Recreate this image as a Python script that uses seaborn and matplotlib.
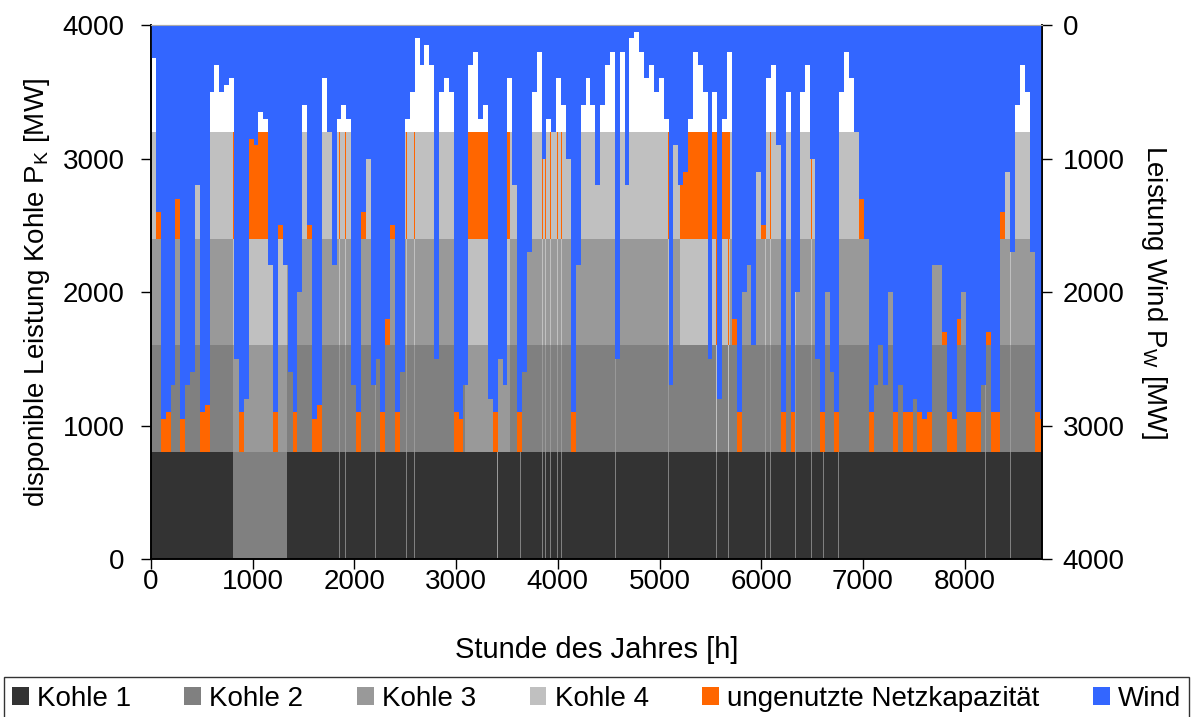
import numpy as np
import matplotlib
matplotlib.use("Agg")
import matplotlib.pyplot as plt
from matplotlib.patches import Patch
import seaborn as sns

# Wind feed-in [MW], one value per 48 h block
block_hours = 48
wind_mw = [
    250, 1400, 2950, 2900, 2700, 1300, 2950, 2700, 2600, 1200,
    2900, 2850, 500, 300, 500, 450, 400, 2500, 2900, 2800,
    850, 900, 650, 700, 1800, 2900, 1500, 1800, 2600, 2900,
    2000, 600, 1500, 2950, 2850, 400, 800, 1800, 700, 600,
    700, 2700, 2900, 1400, 1000, 2700, 2500, 2900, 2200, 1500,
    2900, 2600, 700, 500, 100, 300, 150, 300, 2500, 500,
    400, 500, 2900, 2950, 2700, 300, 200, 700, 600, 2800,
    2900, 2500, 2700, 400, 1200, 2900, 2600, 1700, 500, 200,
    1000, 700, 800, 400, 600, 1000, 2900, 1800, 600, 400,
    600, 1200, 600, 300, 200, 2500, 200, 1200, 100, 50,
    200, 400, 300, 500, 400, 700, 2700, 900, 1200, 1100,
    700, 200, 300, 500, 2500, 500, 2800, 700, 200, 2200,
    2900, 2000, 1800, 2400, 1100, 1500, 400, 300, 900, 2900,
    500, 2900, 2000, 500, 300, 1000, 2500, 2900, 2000, 2600,
    2900, 500, 200, 400, 800, 1300, 1600, 2900, 2700, 2400,
    2700, 2000, 2900, 2700, 2900, 2900, 2800, 2900, 2950, 2900,
    1800, 1800, 2300, 2900, 2950, 2200, 2000, 2900, 2900, 2900,
    2700, 2300, 2900, 2900, 1400, 1100, 1700, 600, 300, 500,
    1700, 2900, 2950,
]

# coal units (800 MW each) and their outages
unit_names = ["Kohle 1", "Kohle 2", "Kohle 3", "Kohle 4"]
unit_colors = ["#333333", "#808080", "#999999", "#c0c0c0"]
unit_mw = 800
outage_unit = [0, 1, 2]
outage_from = [810, 3090, 5200]
outage_to = [1340, 3530, 5690]
# short trips of Kohle 1 (thin light lines in the bottom band), 10 h each
trip_start = [1848, 1904, 2198, 2509, 2584, 3402, 3632, 3844, 3870, 3926, 3991, 4031,
              4563, 5087, 5555, 5676, 6035, 6085, 6330, 6487, 6608, 6755, 8201, 8447]
trip_hours = 10

grid_mw = 4000
year_hours = 8760
orange = "#ff6600"
blue = "#3366ff"

sns.set_theme(style="ticks")
plt.rcParams["font.family"] = ["Liberation Sans", "DejaVu Sans"]
plt.rcParams["mathtext.default"] = "regular"
plt.rcParams["text.color"] = "black"
plt.rcParams["axes.labelcolor"] = "black"

out_unit = outage_unit + [0] * len(trip_start)
out_from = outage_from + trip_start
out_to = outage_to + [t + trip_hours for t in trip_start]

# piecewise constant segments
block_start = np.arange(0, year_hours, block_hours)
edges = np.unique(np.concatenate([block_start, out_from, out_to, [year_hours]]))
seg_start = edges[:-1]
seg_len = np.diff(edges)
blk = np.searchsorted(block_start, seg_start, side="right") - 1
wind = np.array(wind_mw)[blk]
free = grid_mw - wind

slot_colors = [[], [], [], []]
for j, h in enumerate(seg_start):
    avail = [u for u in range(4)
             if not any(out_unit[o] == u and out_from[o] <= h < out_to[o]
                        for o in range(len(out_unit)))]
    for i in range(4):
        if i < len(avail) and (i == 0 or free[j] >= unit_mw * i + 400):
            slot_colors[i].append(unit_colors[avail[i]])
        else:
            slot_colors[i].append(orange)

fig = plt.figure(figsize=(11.93, 7.17), dpi=100)
ax = fig.add_axes([0.1266, 0.2204, 0.7468, 0.7446])

for i in range(4):
    ax.bar(seg_start, unit_mw, width=seg_len, bottom=unit_mw * i, align="edge",
           color=slot_colors[i], linewidth=0, antialiased=False)

ax.set_xlim(0, year_hours)
ax.set_ylim(0, grid_mw)
ax.set_xticks(range(0, 9000, 1000))
ax.set_yticks(range(0, 5000, 1000))
ax.set_xlabel("Stunde des Jahres [h]", fontsize=21, labelpad=30)
ax.set_ylabel("disponible Leistung Kohle P$_K$ [MW]", fontsize=20, labelpad=8)
ax.tick_params(direction="out", length=7, width=1, labelsize=20, colors="black")
ax.tick_params(axis="y", pad=12)
ax.tick_params(axis="x", pad=0)

ax2 = ax.twinx()
ax2.bar(seg_start, wind, width=seg_len, align="edge", color=blue,
        linewidth=0, antialiased=False)
ax2.set_ylim(grid_mw, 0)
ax2.set_yticks(range(0, 5000, 1000))
ax2.set_ylabel("Leistung Wind P$_W$ [MW]", fontsize=20, rotation=270, labelpad=32)
ax2.tick_params(direction="out", length=7, width=1, labelsize=20, colors="black", pad=8)

for a in (ax, ax2):
    for side in ("left", "right", "bottom"):
        a.spines[side].set_color("black")
        a.spines[side].set_linewidth(1.2)
    a.spines["top"].set_color("#aaaaaa")
    a.spines["top"].set_linewidth(0.8)

handles = [Patch(facecolor=c, edgecolor="none") for c in unit_colors]
handles += [Patch(facecolor=orange, edgecolor="none"), Patch(facecolor=blue, edgecolor="none")]
labels = unit_names + ["ungenutzte Netzkapazität", "Wind"]
leg = fig.legend(handles, labels, loc="lower left", bbox_to_anchor=(0.003, -0.004, 0.994, 0.07),
                 mode="expand", ncol=6, fontsize=20, frameon=True, fancybox=False,
                 edgecolor="black", handlelength=0.6, handleheight=0.6, handletextpad=0.3,
                 borderaxespad=0, borderpad=0.3)
leg.get_frame().set_linewidth(1.0)

fig.savefig("out.png", dpi=100)
